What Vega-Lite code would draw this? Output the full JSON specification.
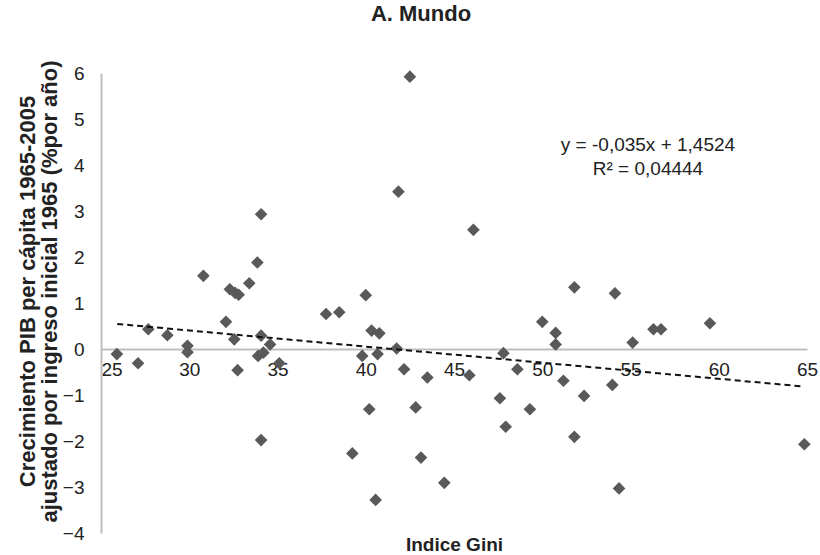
{
  "$schema": "https://vega.github.io/schema/vega-lite/v6.json",
  "width": 706,
  "height": 460,
  "autosize": {"type": "none"},
  "padding": {"left": 101, "top": 73, "right": 13, "bottom": 22},
  "background": "white",
  "config": {"view": {"stroke": null}, "font": "Liberation Sans"},
  "title": {"text": "A. Mundo", "font": "Liberation Sans", "fontSize": 22, "fontWeight": "bold", "color": "#222222", "anchor": "middle", "dx": -33, "offset": 34},
  "layer": [
    {
      "data": {"values": [
        {"gini": 25.9, "g": -0.11}, {"gini": 27.1, "g": -0.31}, {"gini": 27.68, "g": 0.43}, {"gini": 28.76, "g": 0.30},
        {"gini": 29.9, "g": 0.07}, {"gini": 29.9, "g": -0.07}, {"gini": 30.8, "g": 1.59}, {"gini": 32.08, "g": 0.59},
        {"gini": 32.3, "g": 1.30}, {"gini": 32.6, "g": 1.22}, {"gini": 32.8, "g": 1.18}, {"gini": 32.55, "g": 0.21},
        {"gini": 32.74, "g": -0.46}, {"gini": 33.4, "g": 1.43}, {"gini": 33.86, "g": 1.88}, {"gini": 34.07, "g": 2.93},
        {"gini": 34.07, "g": 0.29}, {"gini": 34.58, "g": 0.10}, {"gini": 33.9, "g": -0.15}, {"gini": 34.2, "g": -0.08},
        {"gini": 35.1, "g": -0.31}, {"gini": 34.07, "g": -1.98}, {"gini": 37.75, "g": 0.76}, {"gini": 38.5, "g": 0.80},
        {"gini": 39.24, "g": -2.27}, {"gini": 40.0, "g": 1.17}, {"gini": 40.33, "g": 0.40}, {"gini": 40.77, "g": 0.34},
        {"gini": 39.8, "g": -0.15}, {"gini": 40.67, "g": -0.11}, {"gini": 41.75, "g": 0.01}, {"gini": 41.85, "g": 3.42},
        {"gini": 42.5, "g": 5.92}, {"gini": 42.17, "g": -0.44}, {"gini": 43.49, "g": -0.62}, {"gini": 40.2, "g": -1.31},
        {"gini": 42.83, "g": -1.27}, {"gini": 43.13, "g": -2.36}, {"gini": 44.45, "g": -2.91}, {"gini": 40.56, "g": -3.28},
        {"gini": 45.87, "g": -0.57}, {"gini": 46.1, "g": 2.59}, {"gini": 47.8, "g": -0.09}, {"gini": 47.6, "g": -1.07},
        {"gini": 47.93, "g": -1.69}, {"gini": 48.59, "g": -0.44}, {"gini": 49.3, "g": -1.31}, {"gini": 50.0, "g": 0.59},
        {"gini": 50.76, "g": 0.35}, {"gini": 50.76, "g": 0.10}, {"gini": 51.2, "g": -0.69}, {"gini": 51.82, "g": 1.34},
        {"gini": 51.82, "g": -1.91}, {"gini": 52.37, "g": -1.02}, {"gini": 53.97, "g": -0.78}, {"gini": 54.12, "g": 1.21},
        {"gini": 54.35, "g": -3.03}, {"gini": 55.12, "g": 0.14}, {"gini": 56.3, "g": 0.43}, {"gini": 56.73, "g": 0.43},
        {"gini": 59.5, "g": 0.56}, {"gini": 64.85, "g": -2.07}
      ]},
      "mark": {"type": "point", "shape": "diamond", "filled": true, "size": 160, "color": "#595959", "opacity": 1},
      "encoding": {
        "x": {"field": "gini", "type": "quantitative",
          "scale": {"domain": [25, 65], "nice": false, "zero": false},
          "axis": {"values": [25, 30, 35, 40, 45, 50, 55, 60, 65], "offset": -184, "ticks": false, "grid": false,
            "domainColor": "#bfbfbf", "domainWidth": 2, "labelFont": "Liberation Sans", "labelFontSize": 19, "labelColor": "#222222",
            "labelPadding": 11, "labelAlign": {"condition": {"test": "datum.value == 25", "value": "left"}, "value": "center"},
            "title": "Indice Gini", "titleFont": "Liberation Sans", "titleFontSize": 19, "titleFontWeight": "bold", "titleColor": "#222222",
            "titleY": 186, "titleBaseline": "top"}},
        "y": {"field": "g", "type": "quantitative",
          "scale": {"domain": [-4, 6], "nice": false, "zero": false},
          "axis": {"values": [-4, -3, -2, -1, 0, 1, 2, 3, 4, 5, 6], "ticks": false, "grid": false,
            "domainColor": "#bfbfbf", "domainWidth": 2, "labelFont": "Liberation Sans", "labelFontSize": 19, "labelColor": "#222222",
            "labelPadding": 17,
            "title": ["Crecimiento PIB per cápita 1965-2005", "ajustado por ingreso inicial 1965 (%por año)"],
            "titleFont": "Liberation Sans", "titleFontSize": 22, "titleFontWeight": "bold", "titleColor": "#222222",
            "titleLineHeight": 22, "titleX": -62, "titleY": 218, "titleBaseline": "bottom", "titleAngle": 270}}
      }
    },
    {
      "data": {"values": [{"gini": 25.92, "g": 0.545}, {"gini": 64.85, "g": -0.817}]},
      "mark": {"type": "line", "color": "#111111", "strokeWidth": 2, "strokeDash": [6, 4]},
      "encoding": {
        "x": {"field": "gini", "type": "quantitative"},
        "y": {"field": "g", "type": "quantitative"}
      }
    },
    {
      "data": {"values": [
        {"gini": 55.99, "g": 4.43, "label": "y = -0,035x + 1,4524"},
        {"gini": 55.99, "g": 3.91, "label": "R² = 0,04444"}
      ]},
      "mark": {"type": "text", "font": "Liberation Sans", "fontSize": 19, "color": "#222222", "align": "center", "baseline": "middle"},
      "encoding": {
        "x": {"field": "gini", "type": "quantitative"},
        "y": {"field": "g", "type": "quantitative"},
        "text": {"field": "label"}
      }
    }
  ]
}
